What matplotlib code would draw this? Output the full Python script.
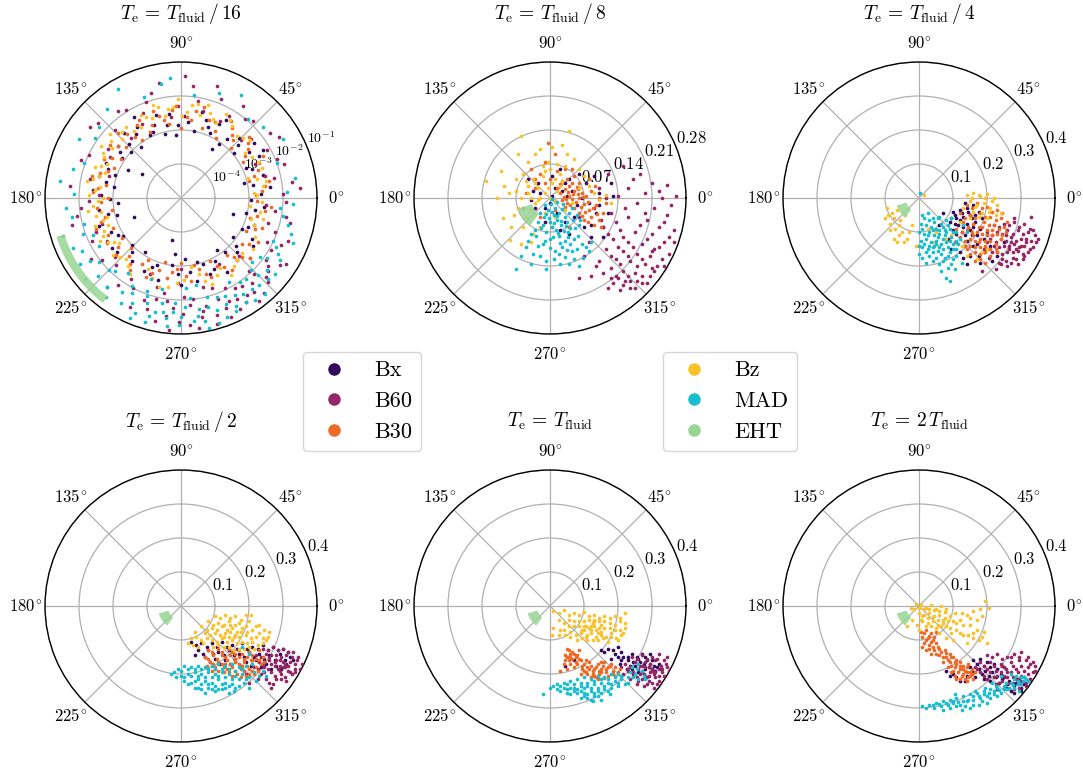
import numpy as np
import matplotlib.pyplot as plt
from matplotlib.lines import Line2D

plt.rcParams["font.family"] = ["cmr10", "DejaVu Serif"]
plt.rcParams["mathtext.fontset"] = "cm"
plt.rcParams["axes.formatter.use_mathtext"] = True

# couleurs des modeles
MODELES = ["Bx", "B60", "B30", "Bz", "MAD"]
COULEURS = ["#320a5e", "#932667", "#ed6925", "#fac228", "#17becf"]
COULEUR_EHT = "#98d594"

# contrainte EHT : amplitude et phase (degres) de beta_2
EHT_AMP = [0.04, 0.07]
EHT_PHASE = [197, 233]

# Te = Tfluid / 16 : (phase en degres, log10 amplitude)
BX_16 = [(3,-2.65),(10,-2.85),(16,-2.5),(22,-2.75),(28,-2.4),(34,-2.6),(40,-2.95),(46,-2.55),(52,-2.8),(60,-2.35),
	(66,-2.9),(72,-2.6),(79,-3.0),(85,-2.75),(92,-2.85),(98,-2.5),(104,-3.05),(110,-2.7),(116,-2.95),(122,-2.55),
	(128,-3.1),(134,-2.8),(140,-2.6),(146,-2.9),(152,-3.25),(158,-2.7),(165,-2.5),(171,-3.0),(178,-2.65),(185,-3.15),
	(192,-2.8),(199,-2.45),(206,-2.7),(213,-2.95),(220,-2.55),(228,-2.85),(236,-3.1),(243,-2.6),(250,-2.9),(258,-3.75),
	(264,-3.35),(270,-2.45),(277,-2.8),(284,-3.05),(291,-2.6),(298,-2.9),(305,-3.15),(312,-2.55),(319,-2.85),(326,-2.45),
	(333,-3.0),(340,-2.7),(347,-3.05),(354,-2.55),(148,-3.65),(202,-3.5),(58,-3.3),(343,-3.4),(120,-2.25),(30,-2.2),
	(7,-2.35),(13,-3.1),(25,-2.9),(37,-2.3),(43,-2.7),(55,-3.05),(63,-2.55),(69,-2.75),(76,-2.4),(88,-2.6),
	(95,-3.15),(101,-2.8),(107,-2.45),(113,-2.9),(125,-2.7),(131,-2.45),(137,-3.0),(143,-2.75),(155,-2.55),(161,-2.95),
	(168,-2.75),(175,-2.4),(181,-2.9),(188,-2.55),(195,-3.05),(210,-2.85),(216,-2.5),(224,-3.0),(232,-2.65),(247,-2.8),
	(254,-2.5),(262,-3.0),(268,-2.75),(274,-3.2),(281,-2.5),(288,-2.95),(295,-2.7),(302,-2.45),(309,-2.95),(316,-2.7),
	(323,-3.1),(330,-2.6),(337,-2.85),(351,-2.8),(358,-2.95)]
B60_16 = [(5,-1.5),(12,-2.2),(18,-1.8),(25,-2.6),(32,-1.6),(40,-2.3),(47,-1.9),(56,-1.75),(63,-2.45),(72,-1.55),
	(80,-2.1),(88,-1.4),(97,-2.6),(106,-1.8),(114,-2.25),(122,-1.95),(130,-2.7),(138,-1.7),(146,-2.4),(155,-2.0),
	(163,-2.8),(174,-1.72),(182,-2.3),(190,-1.9),(198,-2.55),(206,-2.1),(214,-1.8),(222,-2.4),(230,-1.6),(238,-2.2),
	(245,-1.45),(250,-1.8),(255,-2.3),(258,-1.3),(262,-1.95),(265,-1.1),(268,-2.5),(271,-1.6),(274,-1.25),(277,-2.0),
	(280,-1.45),(283,-1.75),(286,-1.15),(289,-2.2),(292,-1.5),(295,-1.67),(298,-1.3),(301,-1.9),(304,-1.55),(307,-1.2),
	(310,-1.75),(313,-2.05),(316,-1.45),(320,-1.65),(324,-1.9),(328,-1.35),(333,-2.15),(338,-1.6),(344,-2.35),(350,-1.85),
	(355,-2.5),(270,-2.9),(300,-2.75),(315,-2.6),
	(2,-2.0),(8,-1.7),(15,-2.45),(22,-1.95),(29,-2.1),(36,-1.75),(44,-2.55),(51,-2.0),(60,-2.2),(68,-1.85),
	(76,-2.35),(84,-1.7),(92,-2.3),(101,-1.55),(110,-2.0),(118,-2.55),(126,-1.85),(134,-2.2),(142,-1.6),(150,-2.6),
	(159,-1.85),(168,-2.25),(178,-2.6),(186,-2.05),(194,-1.7),(202,-2.3),(210,-2.5),(218,-2.05),(226,-2.25),(234,-1.85),
	(242,-2.0),(248,-2.6),(253,-1.6),(256,-1.95),(260,-2.15),(263,-1.5),(266,-1.75),(269,-1.35),(272,-2.1),(275,-1.85),
	(278,-1.15),(281,-1.6),(284,-2.3),(287,-1.4),(290,-1.85),(293,-1.2),(296,-2.05),(299,-1.6),(302,-1.4),(305,-1.85),
	(308,-1.5),(311,-1.3),(314,-1.9),(317,-1.6),(319,-2.3),(322,-1.75),(326,-1.5),(330,-1.95),(335,-1.75),(340,-2.05),
	(347,-1.7),(352,-2.2),(358,-1.9)]
B30_16 = [(2,-2.8),(8,-2.5),(14,-2.95),(20,-2.6),(27,-2.3),(33,-2.75),(39,-2.45),(45,-2.9),(51,-2.6),(57,-2.3),
	(63,-2.8),(70,-2.55),(76,-2.25),(83,-2.7),(90,-2.95),(96,-2.4),(102,-2.65),(108,-2.3),(115,-2.85),(121,-2.5),
	(127,-2.75),(134,-2.35),(140,-2.6),(147,-2.9),(153,-2.45),(160,-2.7),(166,-2.3),(173,-2.55),(180,-2.85),(187,-2.5),
	(194,-2.7),(200,-2.35),(207,-2.6),(214,-2.9),(221,-2.45),(228,-2.7),(235,-2.4),(242,-2.95),(249,-2.65),(256,-3.05),
	(263,-2.8),(270,-3.1),(277,-2.55),(284,-2.85),(291,-2.5),(298,-2.75),(305,-2.4),(312,-2.65),(319,-2.3),(326,-2.6),
	(333,-2.85),(340,-2.45),(347,-2.7),(354,-2.35),
	(5,-2.6),(11,-2.35),(17,-2.75),(24,-2.5),(30,-2.9),(36,-2.55),(42,-2.3),(48,-2.7),(54,-2.45),(60,-2.95),
	(66,-2.55),(73,-2.85),(80,-2.4),(86,-2.6),(93,-2.3),(99,-2.8),(105,-2.5),(112,-2.7),(118,-2.4),(124,-2.95),
	(130,-2.55),(137,-2.8),(143,-2.4),(150,-2.65),(156,-2.85),(163,-2.5),(170,-2.75),(176,-2.4),(183,-2.65),(190,-2.95),
	(197,-2.55),(204,-2.8),(211,-2.45),(218,-2.65),(225,-2.9),(232,-2.55),(239,-2.75),(246,-2.45),(253,-2.8),(260,-2.6),
	(267,-2.9),(274,-2.7),(281,-3.0),(288,-2.65),(295,-2.95),(302,-2.6),(309,-2.85),(316,-2.5),(323,-2.75),(330,-2.4),
	(337,-2.65),(344,-2.9),(351,-2.5),(358,-2.75)]
BZ_16 = [(55,-2.4),(62,-2.2),(68,-2.5),(74,-2.15),(80,-2.2),(86,-2.45),(92,-2.1),(98,-2.35),(104,-2.25),(110,-2.5),
	(116,-2.3),(125,-2.6),(132,-2.4),(138,-2.2),(144,-2.5),(150,-2.35),(155,-2.6),(160,-2.3),(165,-2.5),(170,-2.2),
	(175,-2.45),(180,-2.7),(185,-2.4),(190,-2.6),(194,-2.75),(198,-2.35),(203,-2.55),(208,-2.3),(213,-2.65),(220,-2.4),
	(228,-2.6),(236,-2.3),(250,-2.5),(262,-2.35),(272,-2.6),(278,-2.95),(286,-2.45),(295,-2.5),(303,-2.3),(312,-2.55),
	(325,-2.4),(340,-2.7),(346,-2.5),(353,-2.95),(357,-2.6),(4,-2.85),(8,-2.55),(14,-2.7),(20,-2.45),(30,-2.6),
	(40,-2.35),(48,-2.55),
	(58,-2.3),(65,-2.55),(71,-2.35),(77,-2.5),(83,-2.25),(89,-2.6),(95,-2.3),(101,-2.55),(107,-2.15),(113,-2.4),
	(119,-2.6),(128,-2.35),(135,-2.55),(141,-2.35),(147,-2.2),(152,-2.45),(158,-2.45),(162,-2.65),(168,-2.35),(172,-2.6),
	(178,-2.3),(182,-2.55),(188,-2.25),(192,-2.45),(196,-2.6),(200,-2.7),(206,-2.45),(211,-2.5),(216,-2.75),(224,-2.5),
	(232,-2.45),(245,-2.7),(256,-2.3),(267,-2.5),(283,-2.7),(290,-2.3),(299,-2.65),(308,-2.45),(318,-2.6),(332,-2.55),
	(343,-2.85),(350,-2.65),(2,-2.75),(11,-2.45),(17,-2.95),(25,-2.5),(35,-2.7),(44,-2.45)]
MAD_16 = [(172,-1.41),(139,-1.82),(83,-1.95),(41,-1.8),(3,-1.89),(354,-2.07),(120,-1.3),(60,-1.5),(20,-2.0),(160,-1.95),
	(185,-1.6),(195,-2.05),(200,-1.94),(205,-1.5),(210,-2.2),(215,-1.75),(220,-1.3),(225,-2.0),(230,-1.6),(235,-2.3),
	(240,-1.45),(243,-1.85),(247,-1.15),(250,-2.1),(252,-1.75),(255,-1.4),(258,-2.25),(261,-1.6),(264,-1.2),(267,-1.9),
	(270,-1.5),(273,-2.35),(276,-1.35),(279,-1.7),(282,-1.1),(285,-2.0),(288,-1.55),(291,-1.25),(294,-1.85),(297,-1.45),
	(300,-2.15),(303,-1.65),(306,-1.3),(309,-1.95),(312,-1.55),(315,-1.8),(318,-2.2),(321,-1.45),(325,-1.92),(330,-1.7),
	(335,-2.0),(342,-1.6),(250,-2.45),(280,-2.4),(100,-1.6),(150,-1.55),
	(10,-1.6),(30,-1.55),(50,-1.95),(70,-1.7),(95,-1.45),(110,-1.85),(130,-1.6),(145,-1.9),(165,-1.7),(178,-1.85),
	(190,-1.75),(198,-1.35),(203,-2.2),(208,-1.7),(213,-1.45),(218,-1.95),(223,-1.65),(228,-2.1),(233,-1.35),(238,-1.75),
	(241,-2.05),(245,-1.6),(248,-1.35),(251,-1.95),(254,-1.2),(257,-1.55),(260,-1.85),(263,-1.45),(266,-1.65),(269,-1.25),
	(272,-1.8),(275,-2.05),(278,-1.5),(281,-1.3),(284,-1.7),(287,-1.15),(290,-1.9),(293,-1.6),(296,-1.3),(299,-1.75),
	(302,-1.4),(305,-2.0),(308,-1.6),(311,-1.25),(314,-2.05),(317,-1.5),(320,-1.7),(323,-2.1),(328,-1.55),(333,-1.85),
	(338,-1.45),(346,-1.75),(350,-1.95),(357,-1.7)]

# Te = Tfluid / 8 : beta_2 complexe (Re + i Im)
BX_8 = [.010+.020j, -.020+.010j, .030+.030j, .060+.020j, .000-.010j, -.030-.020j, .050-.040j, .080-.010j, .020+.060j,
	-.045+.040j, .100+.010j, .120-.030j, .070-.060j, .040-.075j, -.010-.050j, .090+.045j, .130+.005j, .015-.030j,
	-.040-.005j, .065+.000j, .085-.080j, .110-.060j, .035+.005j,
	.025+.015j, .005+.005j, -.010-.020j, .045+.015j, .055-.015j, .075+.030j, .030-.050j, .095-.030j, .060+.050j,
	-.025+.030j, .005+.045j, .110-.080j, .125+.030j, .020-.065j, -.035+.015j, .085-.055j, .040+.040j, .100-.015j]
B60_8 = [.150+.065j, .210+.030j, .240+.027j, .170+.040j, .120+.050j, .195+.010j, .230+.000j, .100+.020j, .140+.005j,
	.180-.010j, .215-.020j, .250-.015j, .090-.020j, .125-.030j, .160-.040j, .200-.045j, .235-.050j, .110-.060j,
	.145-.065j, .175-.070j, .210-.075j, .245-.080j, .130-.085j, .160-.090j, .190-.095j, .225-.100j, .115-.105j,
	.150-.110j, .180-.115j, .205-.120j, .135-.125j, .165-.130j, .195-.135j, .220-.140j, .125-.145j, .150-.150j,
	.175-.155j, .205-.160j, .140-.165j, .165-.170j, .190-.175j, .150-.180j, .175-.185j, .130-.175j, .080-.090j,
	.070-.120j, .100-.130j, .085-.160j, .210-.110j, .230-.125j, .255-.090j, .060-.040j, .060-.165j,
	.160+.020j, .185+.050j, .225+.015j, .260+.005j, .115+.000j, .155-.020j, .195-.030j, .240-.035j, .105-.045j,
	.135-.050j, .185-.055j, .225-.060j, .255-.065j, .120-.075j, .150-.080j, .200-.085j, .235-.090j, .140-.100j,
	.170-.100j, .215-.105j, .125-.120j, .160-.120j, .190-.125j, .245-.115j, .145-.135j, .180-.140j, .210-.145j,
	.110-.155j, .135-.160j, .160-.160j, .190-.160j, .215-.150j, .125-.165j, .155-.170j, .180-.170j, .145-.190j,
	.165-.185j, .120-.185j, .200-.175j, .095-.140j, .235-.140j]
B30_8 = [.020+.010j, .030+.018j, .040+.005j, .050+.015j, .060+.000j, .025-.005j, .035-.010j, .045-.002j, .055+.022j,
	.065+.010j, .070-.012j, .040+.025j, .015+.020j, .030-.018j, .050-.020j, .075+.005j, .080-.025j, .060-.030j,
	.085-.040j, .070-.045j, .090-.055j, .095-.015j, .100+.000j, .110-.030j, .000+.040j, -.020+.050j, -.010+.075j,
	-.040+.060j, .010+.090j, -.005+.113j, .030+.060j, .050+.045j, .080+.040j, -.030+.020j, -.050+.010j, -.056-.020j,
	-.020-.040j, .005-.060j, .040-.060j, .025+.035j, .045+.030j, .058+.008j,
	.028+.002j, .038+.012j, .048+.008j, .058+.018j, .068+.002j, .032-.003j, .042-.015j, .053-.008j, .063-.018j,
	.072-.028j, .078-.008j, .088-.020j, .096-.032j, .065-.038j, .078-.050j, .100-.045j, .085+.015j, .020+.028j,
	.035+.040j, .060+.030j, -.010+.030j, .015+.055j, -.030+.040j, .045+.060j, .010-.025j, .115-.010j, .105-.060j,
	.093+.025j]
BZ_8 = [-.010+.010j, -.025+.020j, .005+.030j, .015+.015j, -.035+.040j, -.015+.045j, .020+.050j, .000+.060j,
	-.040+.000j, -.030-.010j, .010-.005j, .025+.035j, -.005+.075j, .030+.065j, -.045+.025j, -.055+.050j, -.070+.015j,
	-.065-.020j, -.050-.040j, -.080-.060j, -.097-.041j, -.083-.086j, -.060-.095j, -.131+.034j, -.100+.055j,
	-.059+.127j, .040+.137j, .005+.105j, -.030+.090j, .050+.080j, .070+.045j, .116+.007j, .125-.010j, .090+.010j,
	.060+.020j, .045-.010j, -.020-.060j, .010-.040j, -.045+.075j, .035+.090j,
	-.020+.000j, -.005+.020j, .010+.040j, -.030+.030j, -.045+.010j, -.010+.055j, .020+.025j, -.050+.035j,
	-.060+.000j, -.040-.025j, -.025-.005j, .000+.000j, -.015+.065j, .015+.070j, -.070+.040j, -.085+.010j,
	-.075-.035j, -.055-.060j, -.035-.075j, -.095+.025j, -.110+.000j, -.020+.100j, .025+.110j, .060+.060j,
	.080+.025j, .100-.005j, -.065+.090j, -.040-.090j, .030-.025j, -.010-.030j]
MAD_8 = [.002-.012j, .010-.020j, -.005-.025j, .018-.030j, .025-.022j, .008-.035j, -.012-.040j, .030-.040j, .015-.045j,
	.000-.050j, -.020-.030j, .040-.030j, .022-.055j, .005-.060j, -.015-.055j, .035-.050j, .048-.045j, .012-.065j,
	-.025-.050j, .028-.068j, .042-.062j, -.008-.070j, .055-.035j, .018-.078j, .000-.085j, .038-.080j, -.030-.065j,
	.060-.055j, -.040-.075j, .050-.085j, -.015-.095j, .025-.100j, .065-.095j, -.050-.100j, .010-.110j, .045-.110j,
	-.035-.115j, .030-.122j, .068-.123j, -.008-.130j, -.069-.146j, -.008-.147j, .020-.135j, .080-.110j, .005-.003j,
	.015-.008j, -.010-.015j,
	.004-.028j, .014-.038j, .022-.048j, -.002-.042j, .032-.058j, .008-.052j, -.018-.062j, .038-.070j, .016-.072j,
	.052-.062j, -.028-.078j, .006-.080j, .030-.088j, .058-.078j, -.010-.088j, .020-.092j, .042-.095j, -.025-.098j,
	.000-.102j, .055-.105j, .018-.115j, -.045-.088j, .035-.108j, .075-.100j, -.020-.120j, .050-.125j, .008-.125j,
	.085-.090j, .062-.045j, .045-.020j, -.008-.032j, .027-.012j, .060-.140j, -.040-.135j, .040-.135j, -.060-.120j]

# Te = Tfluid / 4
BX_4 = [.100-.040j, .120-.035j, .140-.030j, .160-.020j, .110-.060j, .130-.055j, .150-.050j, .090-.070j, .115-.080j,
	.140-.075j, .165-.070j, .100-.095j, .125-.100j, .150-.095j, .180-.090j, .200-.110j, .085-.120j, .110-.130j,
	.140-.125j, .170-.135j, .210-.140j, .120-.160j, .150-.170j, .190-.160j, .230-.170j, .140-.195j, .180-.190j,
	.250-.130j, .070-.045j, .060-.080j, .135-.015j, .175-.040j, .155-.110j, .095-.150j,
	.105-.050j, .125-.045j, .145-.040j, .165-.050j, .095-.060j, .120-.065j, .160-.085j, .105-.075j, .130-.085j,
	.110-.105j, .135-.110j, .170-.110j, .190-.120j, .160-.140j, .200-.150j, .130-.175j, .175-.170j, .215-.185j,
	.155-.060j, .185-.060j]
B60_4 = [.220-.080j, .250-.075j, .280-.070j, .310-.075j, .330-.055j, .200-.100j, .230-.100j, .260-.095j, .290-.095j,
	.320-.100j, .340-.110j, .210-.120j, .240-.120j, .270-.115j, .300-.120j, .330-.125j, .220-.140j, .250-.140j,
	.280-.135j, .310-.140j, .335-.145j, .230-.160j, .260-.160j, .290-.155j, .320-.160j, .245-.180j, .275-.175j,
	.305-.180j, .260-.200j, .290-.195j, .190-.150j, .205-.175j, .235-.190j, .225-.210j, .270-.130j, .300-.140j,
	.255-.110j, .285-.150j, .315-.120j, .265-.140j, .185-.215j,
	.235-.085j, .265-.080j, .295-.085j, .325-.090j, .215-.110j, .245-.105j, .275-.105j, .305-.105j, .335-.095j,
	.225-.130j, .255-.125j, .285-.125j, .315-.130j, .345-.130j, .235-.145j, .265-.150j, .295-.145j, .325-.150j,
	.245-.165j, .275-.160j, .305-.165j, .255-.185j, .285-.180j, .270-.190j, .215-.160j, .240-.195j, .310-.170j,
	.200-.130j, .350-.120j, .280-.060j]
B30_4 = [.140-.020j, .170-.015j, .200-.025j, .230-.035j, .120-.045j, .150-.050j, .180-.045j, .210-.055j, .240-.060j,
	.130-.070j, .160-.075j, .190-.070j, .220-.080j, .250-.085j, .110-.090j, .140-.095j, .170-.100j, .200-.095j,
	.230-.105j, .120-.115j, .150-.120j, .180-.120j, .210-.125j, .240-.120j, .135-.140j, .165-.145j, .195-.140j,
	.225-.150j, .150-.165j, .180-.165j, .210-.170j, .165-.185j, .195-.190j, .105-.130j, .255-.100j, .185-.085j,
	.160-.110j, .200-.110j, .175-.130j, .215-.095j,
	.155-.030j, .185-.030j, .215-.040j, .245-.045j, .135-.060j, .165-.060j, .195-.055j, .225-.065j, .145-.085j,
	.175-.085j, .205-.080j, .235-.090j, .125-.100j, .155-.100j, .185-.105j, .215-.110j, .245-.110j, .135-.125j,
	.165-.125j, .195-.125j, .225-.135j, .150-.140j, .180-.145j, .210-.150j, .165-.160j, .195-.160j, .180-.180j,
	.140-.150j, .230-.160j, .260-.070j]
BZ_4 = [.140+.010j, .160+.015j, .180+.005j, .200+.012j, .220+.000j, .150-.010j, .170-.020j, .190-.015j, .210-.030j,
	.230-.020j, .160-.040j, .185-.045j, .200-.060j, .240-.045j, .130-.030j, .015+.010j, -.095-.030j, -.080-.045j,
	-.065-.035j, -.100-.060j, -.085-.075j, -.070-.090j, -.055-.065j, -.040-.050j, -.030-.100j, -.060-.110j,
	-.045-.130j, -.075-.120j, -.020-.080j, -.010-.140j, .050-.100j, .080-.120j, .110-.150j, .140-.170j, .170-.180j,
	.060-.140j, .200-.150j, .150-.060j, .120-.070j,
	.155+.000j, .175+.010j, .195+.000j, .215-.010j, .165-.025j, .205-.040j, .225-.050j, .175-.055j, -.090-.050j,
	-.075-.060j, -.060-.080j, -.050-.100j, -.035-.120j, -.065-.130j, -.085-.095j, .025-.090j, .040-.130j, .095-.110j,
	.125-.140j, .185-.160j]
MAD_4 = [.003+.014j, .010-.050j, .025-.045j, .040-.060j, .060-.055j, .080-.065j, .095-.060j, .005-.075j, .020-.080j,
	.035-.085j, .050-.090j, .070-.085j, .090-.090j, .000-.100j, .015-.105j, .030-.100j, .045-.110j, .060-.105j,
	.075-.110j, .095-.115j, .110-.100j, .005-.125j, .020-.120j, .035-.130j, .050-.125j, .065-.135j, .080-.130j,
	.100-.135j, .120-.120j, .010-.145j, .025-.150j, .040-.145j, .055-.155j, .070-.150j, .090-.160j, .110-.150j,
	.000-.165j, .030-.170j, .050-.175j, .075-.175j, .100-.180j, .020-.190j, .060-.195j, .085-.205j, .090-.245j,
	.080-.235j, .125-.190j, .130-.080j,
	.015-.060j, .045-.070j, .030-.065j, .065-.075j, .085-.078j, .010-.090j, .040-.095j, .060-.095j, .080-.100j,
	.100-.100j, .025-.110j, .055-.115j, .070-.120j, .090-.125j, .110-.125j, .015-.135j, .045-.140j, .060-.145j,
	.085-.145j, .100-.150j, .020-.160j, .040-.160j, .065-.165j, .085-.170j, .010-.175j, .040-.185j, .070-.185j,
	.095-.195j, .110-.170j, .000-.140j, .115-.135j, .140-.100j, .055-.060j, .075-.095j, .030-.140j, .050-.135j,
	.105-.210j, .065-.215j]

# Te = Tfluid / 2
BX_2 = [.030-.105j, .060-.110j, .090-.110j, .120-.105j, .150-.115j, .180-.110j, .210-.120j, .240-.115j, .270-.120j,
	.300-.125j, .050-.130j, .080-.130j, .110-.135j, .140-.130j, .170-.140j, .200-.135j, .230-.140j, .260-.145j,
	.290-.140j, .320-.150j, .070-.150j, .100-.155j, .130-.160j, .160-.155j, .190-.165j, .220-.160j, .250-.170j,
	.280-.175j, .040-.145j, .310-.170j,
	.045-.115j, .075-.120j, .105-.120j, .135-.120j, .165-.125j, .195-.125j, .225-.125j, .255-.130j, .285-.130j,
	.315-.135j, .065-.140j, .095-.140j, .125-.145j, .155-.145j, .185-.150j, .215-.150j, .245-.155j, .275-.160j,
	.305-.160j, .085-.165j, .115-.170j, .145-.170j, .175-.175j, .205-.175j, .235-.180j, .265-.185j, .295-.185j,
	.330-.160j]
B60_2 = [.240-.125j, .270-.120j, .300-.125j, .330-.135j, .220-.145j, .250-.140j, .280-.145j, .310-.145j, .345-.150j,
	.230-.165j, .260-.160j, .290-.160j, .320-.165j, .355-.170j, .215-.180j, .245-.180j, .275-.175j, .305-.180j,
	.335-.185j, .235-.200j, .265-.195j, .295-.200j, .325-.200j, .250-.215j, .280-.215j, .310-.220j, .270-.230j,
	.190-.200j, .200-.225j, .285-.185j, .300-.165j, .265-.170j, .315-.190j, .260-.150j, .290-.175j,
	.255-.130j, .285-.130j, .315-.135j, .235-.150j, .265-.145j, .295-.150j, .325-.150j, .245-.165j, .275-.165j,
	.305-.170j, .335-.170j, .225-.185j, .255-.185j, .290-.190j, .320-.195j, .350-.185j, .245-.195j, .275-.205j,
	.305-.210j, .335-.195j, .260-.225j, .295-.215j, .225-.215j, .265-.240j, .315-.175j, .240-.170j, .280-.160j,
	.210-.160j, .340-.160j, .300-.180j]
B30_2 = [.080-.130j, .110-.125j, .140-.125j, .170-.130j, .200-.135j, .230-.130j, .070-.150j, .095-.145j, .120-.145j,
	.145-.145j, .170-.150j, .195-.150j, .220-.155j, .240-.150j, .085-.165j, .110-.165j, .135-.160j, .160-.165j,
	.185-.165j, .210-.170j, .235-.170j, .100-.180j, .125-.180j, .150-.180j, .175-.185j, .200-.185j, .225-.190j,
	.140-.195j, .165-.200j, .190-.205j, .215-.200j, .155-.155j, .180-.175j, .130-.170j, .205-.160j, .160-.140j,
	.090-.135j, .120-.135j, .150-.135j, .180-.140j, .210-.145j, .080-.155j, .105-.155j, .130-.150j, .160-.155j,
	.185-.155j, .210-.160j, .230-.160j, .095-.170j, .120-.170j, .145-.170j, .170-.170j, .195-.175j, .220-.180j,
	.110-.190j, .135-.185j, .160-.190j, .185-.190j, .210-.190j, .150-.205j, .175-.210j, .200-.200j, .125-.195j,
	.245-.165j, .075-.175j, .090-.190j]
BZ_2 = [.100-.030j, .130-.025j, .160-.030j, .190-.025j, .205-.027j, .080-.045j, .110-.050j, .140-.045j, .170-.050j,
	.200-.045j, .230-.055j, .060-.060j, .090-.065j, .120-.060j, .150-.065j, .180-.065j, .210-.070j, .245-.070j,
	.040-.075j, .070-.080j, .100-.080j, .130-.080j, .160-.085j, .190-.085j, .220-.090j, .255-.090j, .030-.095j,
	.060-.100j, .090-.100j, .120-.095j, .150-.100j, .180-.105j, .210-.105j, .240-.110j, .020-.110j, .050-.120j,
	.110-.115j, .140-.120j, .170-.125j, .200-.120j, .135-.070j, .155-.090j, .175-.075j, .125-.090j, .145-.055j,
	.115-.035j, .145-.035j, .175-.040j, .095-.055j, .125-.055j, .160-.055j, .190-.060j, .220-.060j, .075-.070j,
	.105-.070j, .145-.075j, .165-.075j, .195-.075j, .230-.080j, .085-.085j, .115-.085j, .140-.090j, .170-.090j,
	.205-.095j, .240-.095j, .045-.090j, .075-.095j, .105-.105j, .135-.105j, .165-.110j, .195-.110j, .225-.115j,
	.035-.115j, .065-.110j, .095-.120j, .125-.120j, .155-.130j, .185-.125j, .215-.125j, .250-.100j, .260-.075j]
MAD_2 = [-.030-.200j, -.010-.185j, .010-.175j, .030-.180j, .050-.175j, .070-.180j, .090-.175j, .110-.170j, .130-.175j,
	.150-.170j, .170-.180j, .190-.175j, .210-.170j, .000-.205j, .020-.200j, .040-.195j, .060-.200j, .080-.195j,
	.100-.200j, .120-.195j, .140-.200j, .160-.205j, .180-.200j, .200-.210j, .230-.205j, .010-.220j, .030-.225j,
	.050-.215j, .070-.220j, .090-.225j, .110-.215j, .130-.225j, .150-.230j, .040-.240j, .060-.245j, .080-.240j,
	.100-.250j, .120-.245j, .140-.255j, .170-.235j, .240-.190j, .200-.240j, .180-.120j, .200-.140j,
	-.020-.195j, .000-.190j, .020-.185j, .040-.185j, .060-.185j, .080-.185j, .100-.185j, .120-.185j, .140-.185j,
	.160-.190j, .180-.185j, .010-.210j, .030-.205j, .050-.205j, .070-.210j, .090-.210j, .110-.205j, .130-.210j,
	.150-.215j, .170-.215j, .190-.215j, .020-.230j, .040-.220j, .060-.230j, .080-.230j, .100-.235j, .120-.230j,
	.140-.235j, .160-.240j, .050-.240j, .090-.245j, .110-.245j, .130-.240j, .070-.255j, .155-.250j, .215-.195j,
	.220-.220j, -.015-.210j, .185-.225j, .250-.205j]

# Te = Tfluid
BX_1 = [.045-.175j, .070-.160j, .150-.130j, .170-.125j, .190-.140j, .200-.120j, .215-.150j, .230-.160j, .240-.140j,
	.250-.175j, .265-.165j, .280-.150j, .290-.180j, .300-.160j, .310-.190j, .320-.170j, .270-.195j, .255-.150j,
	.225-.185j, .205-.170j, .180-.155j, .295-.140j, .245-.200j,
	.160-.135j, .185-.130j, .210-.135j, .230-.150j, .245-.165j, .260-.155j, .275-.170j, .285-.160j, .295-.170j,
	.305-.175j, .315-.180j, .280-.185j, .260-.195j, .235-.175j, .210-.160j, .325-.185j, .270-.140j, .300-.185j,
	.240-.185j, .200-.150j]
B60_1 = [.240-.150j, .270-.145j, .300-.150j, .320-.140j, .345-.150j, .220-.170j, .250-.165j, .280-.165j, .310-.160j,
	.340-.170j, .230-.190j, .260-.185j, .290-.180j, .320-.185j, .350-.190j, .245-.205j, .275-.200j, .305-.200j,
	.335-.205j, .260-.220j, .290-.220j, .320-.220j, .275-.235j, .305-.240j, .215-.200j, .300-.190j, .285-.210j,
	.270-.175j, .330-.195j, .255-.230j, .210-.180j,
	.255-.155j, .285-.155j, .315-.155j, .335-.160j, .235-.180j, .265-.175j, .295-.170j, .325-.175j, .345-.180j,
	.245-.195j, .270-.190j, .300-.185j, .330-.185j, .255-.210j, .280-.205j, .310-.210j, .340-.215j, .270-.215j,
	.300-.225j, .285-.230j, .315-.230j, .265-.200j, .295-.195j, .280-.180j, .310-.195j, .320-.205j, .290-.205j,
	.235-.215j, .225-.185j, .330-.225j]
B30_1 = [.050-.125j, .065-.135j, .045-.145j, .060-.150j, .080-.145j, .055-.160j, .075-.165j, .090-.160j, .040-.170j,
	.085-.130j, .030-.190j, .050-.185j, .070-.180j, .100-.170j, .110-.180j, .120-.175j, .140-.170j, .160-.165j,
	.130-.185j, .150-.185j, .170-.180j, .190-.180j, .105-.195j, .125-.200j, .145-.200j, .165-.195j, .185-.200j,
	.200-.195j, .135-.210j, .160-.212j, .115-.165j, .095-.185j, .180-.170j, .150-.165j,
	.055-.130j, .070-.140j, .050-.150j, .065-.155j, .085-.155j, .060-.170j, .080-.170j, .045-.160j, .095-.175j,
	.105-.160j, .115-.185j, .135-.180j, .155-.175j, .175-.175j, .125-.190j, .145-.190j, .165-.185j, .185-.190j,
	.110-.200j, .130-.205j, .150-.195j, .170-.205j, .190-.205j, .140-.215j, .120-.210j, .100-.190j, .090-.200j,
	.205-.185j, .060-.140j, .075-.150j]
BZ_1 = [.010-.015j, .040-.012j, .070-.020j, .100-.018j, .130-.025j, .160-.030j, .190-.030j, .220-.020j, .025-.040j,
	.055-.040j, .085-.045j, .115-.040j, .145-.045j, .175-.050j, .205-.045j, .010-.065j, .040-.070j, .070-.060j,
	.100-.060j, .130-.060j, .160-.065j, .190-.070j, .220-.065j, .025-.085j, .060-.090j, .090-.080j, .120-.080j,
	.150-.085j, .180-.090j, .210-.085j, .080-.100j, .110-.100j, .140-.100j, .170-.105j, .200-.100j, .105-.060j,
	.125-.050j, .135-.070j, .095-.070j, .150-.055j, .005-.085j,
	.025-.020j, .055-.025j, .085-.025j, .115-.030j, .145-.035j, .175-.035j, .205-.035j, .040-.050j, .070-.045j,
	.100-.045j, .130-.045j, .160-.045j, .190-.055j, .220-.050j, .055-.060j, .085-.060j, .115-.065j, .145-.065j,
	.175-.065j, .205-.070j, .030-.070j, .060-.075j, .090-.075j, .120-.070j, .150-.075j, .180-.080j, .215-.080j,
	.045-.085j, .075-.085j, .105-.090j, .135-.090j, .165-.090j, .195-.095j, .095-.095j, .125-.100j, .155-.095j,
	.110-.085j, .140-.080j, .100-.070j, .130-.040j, .120-.060j]
MAD_1 = [-.020-.260j, .000-.240j, .020-.230j, .040-.225j, .060-.220j, .080-.215j, .100-.210j, .120-.215j, .140-.205j,
	.160-.210j, .180-.200j, .200-.200j, .030-.250j, .050-.245j, .070-.240j, .090-.235j, .110-.235j, .130-.230j,
	.150-.225j, .170-.225j, .190-.220j, .210-.215j, .230-.210j, .060-.260j, .080-.255j, .100-.255j, .120-.250j,
	.140-.250j, .160-.245j, .180-.240j, .200-.235j, .090-.270j, .110-.270j, .130-.265j, .150-.275j, .250-.200j,
	.270-.190j, .280-.215j, .240-.180j, .260-.170j, .220-.230j, .125-.280j,
	.010-.235j, .030-.235j, .050-.230j, .070-.230j, .090-.225j, .110-.225j, .130-.220j, .150-.215j, .170-.215j,
	.190-.210j, .210-.205j, .040-.240j, .060-.240j, .080-.245j, .100-.240j, .120-.240j, .140-.240j, .160-.235j,
	.180-.230j, .200-.225j, .050-.255j, .070-.250j, .090-.250j, .110-.260j, .130-.255j, .150-.255j, .170-.250j,
	.100-.265j, .140-.265j, .120-.275j, .020-.245j, .235-.195j, .255-.185j, .275-.205j, .260-.215j, .230-.225j,
	.245-.210j, .175-.260j]

# Te = 2 Tfluid
BX_X2 = [.160-.160j, .180-.155j, .200-.165j, .220-.170j, .150-.180j, .175-.185j, .195-.190j, .215-.195j, .240-.200j,
	.140-.205j, .165-.210j, .190-.215j, .210-.220j, .235-.225j, .260-.230j, .280-.235j, .300-.240j, .320-.245j,
	.290-.215j, .310-.225j, .250-.210j, .080-.190j, .100-.200j, .120-.220j, .270-.250j, .230-.245j,
	.170-.170j, .190-.175j, .210-.180j, .230-.185j, .160-.195j, .185-.200j, .205-.205j, .225-.210j, .245-.215j,
	.265-.220j, .285-.225j, .305-.230j, .325-.235j, .300-.250j, .280-.255j, .255-.240j, .135-.220j, .110-.210j,
	.090-.205j, .325-.215j]
B60_X2 = [.200-.145j, .230-.140j, .260-.150j, .280-.140j, .300-.135j, .320-.150j, .180-.165j, .210-.165j, .240-.170j,
	.270-.165j, .295-.160j, .325-.170j, .340-.175j, .170-.185j, .200-.185j, .225-.190j, .255-.185j, .285-.185j,
	.310-.190j, .335-.195j, .190-.205j, .220-.210j, .250-.205j, .275-.210j, .300-.205j, .325-.215j, .235-.225j,
	.265-.225j, .290-.230j, .315-.235j, .250-.240j, .280-.245j, .155-.200j, .260-.195j, .295-.215j, .245-.175j,
	.215-.150j, .245-.155j, .270-.150j, .295-.150j, .315-.160j, .335-.165j, .190-.175j, .220-.175j, .250-.180j,
	.275-.175j, .300-.175j, .320-.180j, .180-.195j, .210-.195j, .240-.195j, .270-.195j, .290-.195j, .320-.200j,
	.200-.215j, .230-.205j, .260-.210j, .285-.215j, .310-.210j, .245-.220j, .275-.225j, .300-.220j, .265-.240j,
	.295-.240j, .225-.230j, .315-.225j, .165-.180j, .340-.190j]
B30_X2 = [.005-.075j, .020-.070j, .035-.080j, .050-.075j, .010-.090j, .025-.095j, .040-.100j, .015-.110j, .030-.115j,
	.050-.110j, .060-.125j, .045-.130j, .075-.130j, .090-.140j, .060-.145j, .080-.150j, .100-.150j, .070-.165j,
	.090-.165j, .110-.160j, .120-.175j, .085-.180j, .105-.180j, .130-.185j, .095-.195j, .115-.195j, .140-.195j,
	.125-.205j, .150-.205j, .110-.215j, .135-.215j, .155-.185j, .035-.140j, .020-.130j, .145-.170j, .160-.215j,
	.015-.080j, .030-.088j, .045-.090j, .020-.100j, .035-.105j, .010-.120j, .040-.120j, .055-.120j, .065-.135j,
	.080-.138j, .095-.150j, .070-.150j, .085-.160j, .105-.165j, .120-.165j, .095-.175j, .110-.170j, .130-.175j,
	.140-.180j, .100-.190j, .120-.185j, .135-.190j, .150-.195j, .105-.205j, .130-.200j, .145-.210j, .120-.215j,
	.140-.220j, .155-.200j, .165-.195j, .050-.140j, .030-.125j]
BZ_X2 = [-.025-.005j, -.010+.005j, .005+.003j, .020-.005j, .035+.002j, .050-.008j, .065+.000j, .080-.010j, .000-.020j,
	.015-.025j, .030-.020j, .045-.030j, .060-.025j, .075-.035j, .090-.030j, -.020-.040j, .010-.045j, .025-.050j,
	.040-.045j, .055-.055j, .070-.050j, .100-.045j, .120-.040j, .140-.025j, .160-.015j, .180-.010j, .195+.015j,
	.205-.005j, .150-.055j, .170-.070j, .110-.070j, .130-.085j, .160-.095j, .185-.090j, .200-.110j, .090-.065j,
	-.035-.060j, .000-.070j, .060-.080j, .140-.110j, .100-.100j,
	-.015-.010j, .000-.005j, .015-.010j, .030-.008j, .045-.012j, .060-.015j, .075-.018j, .010-.030j, .025-.035j,
	.040-.032j, .055-.040j, .070-.040j, .085-.045j, .005-.040j, .020-.060j, .035-.060j, .050-.065j, .065-.060j,
	.080-.060j, .110-.050j, .130-.055j, .150-.035j, .170-.040j, .185-.030j, .120-.080j, .145-.085j, .175-.100j,
	.190-.075j, .160-.080j, .095-.080j, .105-.020j, .125-.020j, -.005-.055j, .080-.095j]
MAD_X2 = [.010-.295j, .030-.290j, .050-.285j, .045-.300j, .070-.280j, .065-.295j, .090-.275j, .085-.290j, .110-.270j,
	.100-.285j, .120-.290j, .130-.265j, .140-.280j, .150-.260j, .160-.275j, .170-.255j, .180-.270j, .190-.250j,
	.200-.265j, .210-.245j, .220-.260j, .230-.240j, .240-.255j, .250-.235j, .260-.245j, .270-.225j, .280-.240j,
	.290-.220j, .300-.230j, .310-.210j, .320-.220j, .150-.300j, .175-.290j, .200-.285j, .125-.305j, .240-.205j,
	.270-.200j, .295-.250j, .105-.260j, .215-.225j, .285-.205j,
	.020-.300j, .040-.292j, .060-.288j, .080-.285j, .100-.280j, .115-.283j, .130-.280j, .145-.275j, .160-.265j,
	.175-.265j, .190-.260j, .205-.255j, .220-.250j, .235-.248j, .250-.245j, .265-.240j, .275-.232j, .290-.230j,
	.305-.222j, .315-.215j, .135-.295j, .160-.290j, .185-.280j, .210-.270j, .230-.265j, .110-.295j, .090-.300j,
	.070-.305j, .255-.225j, .280-.215j, .300-.210j, .195-.240j, .165-.250j, .225-.235j]

TITRES = [r"$T_{\rm e}\, =\, T_{\rm fluid}\,/\,16$", r"$T_{\rm e}\, =\, T_{\rm fluid}\,/\,8$",
	r"$T_{\rm e}\, =\, T_{\rm fluid}\,/\,4$", r"$T_{\rm e}\, =\, T_{\rm fluid}\,/\,2$",
	r"$T_{\rm e}\, =\, T_{\rm fluid}$", r"$T_{\rm e}\, =\, 2\,T_{\rm fluid}$"]

panneaux_lin = [
	[BX_8, B60_8, B30_8, BZ_8, MAD_8],
	[BX_4, B60_4, B30_4, BZ_4, MAD_4],
	[BX_2, B60_2, B30_2, BZ_2, MAD_2],
	[BX_1, B60_1, B30_1, BZ_1, MAD_1],
	[BX_X2, B60_X2, B30_X2, BZ_X2, MAD_X2],
]

fig = plt.figure(figsize=(10.83, 7.74), dpi=100)
W, H = 1083, 774
gauches = [45, 414, 783]
hauts = [62, 470]
taille = 272
TAILLE_POINT = 7


def prepareAxe(i):
	x0 = gauches[i % 3]
	y0 = hauts[i // 3]
	ax = fig.add_axes([x0 / W, 1 - (y0 + taille) / H, taille / W, taille / H], projection="polar")
	angles = np.arange(0, 360, 45)
	ax.set_thetagrids(angles, labels=[rf"${a}^{{\!\circ}}$" for a in angles], fontsize=12)
	ax.grid(True, color="#b0b0b0", linewidth=0.9)
	ax.spines["polar"].set_linewidth(1.0)
	ax.text(0.5, 1.18, TITRES[i], transform=ax.transAxes, ha="center", va="center", fontsize=14)
	return ax


def dessineEHT(ax):
	theta = np.radians(np.linspace(EHT_PHASE[0], EHT_PHASE[1], 40))
	ax.fill_between(theta, EHT_AMP[0], EHT_AMP[1], color=COULEUR_EHT, alpha=0.85, linewidth=0, zorder=4)


# Panneau log
ax = prepareAxe(0)
for donnees, c in zip([BX_16, B60_16, B30_16, BZ_16, MAD_16], COULEURS):
	d = np.array(donnees, dtype=float)
	ax.scatter(np.radians(d[:, 0]), 10 ** d[:, 1], s=TAILLE_POINT, color=c, linewidths=0, zorder=3)
ax.set_rscale("log")
ax.set_rlim(1e-5, 1e-1)
ax.set_rgrids([1e-4, 1e-3, 1e-2, 1e-1], labels=[r"$10^{-4}$", r"$10^{-3}$", r"$10^{-2}$", r"$10^{-1}$"], fontsize=10)
dessineEHT(ax)

# Panneaux lineaires
for k, panneau in enumerate(panneaux_lin):
	ax = prepareAxe(k + 1)
	for donnees, c in zip(panneau, COULEURS):
		z = np.array(donnees)
		ax.scatter(np.angle(z), np.abs(z), s=TAILLE_POINT, color=c, linewidths=0, zorder=3)
	dessineEHT(ax)
	if k == 0:
		ax.set_rlim(0, 0.28)
		ax.set_rgrids([0.07, 0.14, 0.21, 0.28], labels=["$0.07$", "$0.14$", "$0.21$", "$0.28$"], fontsize=12)
	else:
		ax.set_rlim(0, 0.4)
		ax.set_rgrids([0.1, 0.2, 0.3, 0.4], labels=["$0.1$", "$0.2$", "$0.3$", "$0.4$"], fontsize=12)

# Legendes
poignees = [Line2D([], [], marker="o", linestyle="none", markersize=8, color=c, label=m)
	for m, c in zip(MODELES, COULEURS)]
poignees.append(Line2D([], [], marker="o", linestyle="none", markersize=8, color=COULEUR_EHT, label="EHT"))

fig.legend(handles=poignees[:3], loc="upper left", bbox_to_anchor=(303 / W, 1 - 352 / H),
	borderaxespad=0, fontsize=16)
fig.legend(handles=poignees[3:], loc="upper left", bbox_to_anchor=(663 / W, 1 - 352 / H),
	borderaxespad=0, fontsize=16)

fig.savefig("out.png", dpi=100)
